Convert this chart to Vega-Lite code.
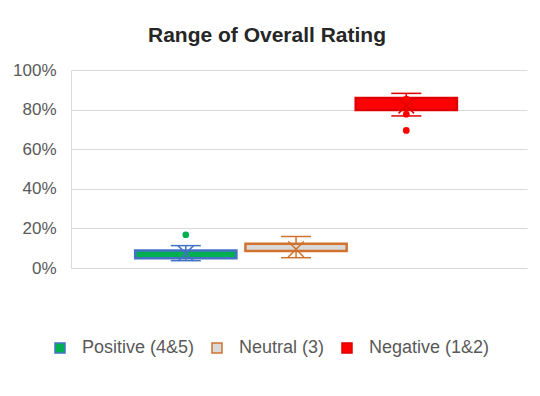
{
  "$schema": "https://vega.github.io/schema/vega-lite/v6.json",
  "width": 456,
  "height": 198,
  "autosize": {"type": "none"},
  "padding": {"left": 71, "top": 70, "right": 13, "bottom": 128},
  "background": "white",
  "config": {
    "font": "Liberation Sans",
    "view": {"stroke": null},
    "axisY": {
      "labelFont": "Liberation Sans",
      "title": null,
      "ticks": false,
      "labelOverlap": false,
      "labelFlush": false,
      "labelBound": false,
      "labelPadding": 15,
      "labelFontSize": 17,
      "labelColor": "#595959",
      "domainColor": "#D9D9D9",
      "domainWidth": 1,
      "gridColor": "#D9D9D9",
      "gridWidth": 1.2,
      "tickCount": 6,
      "format": ".0%"
    },
    "legend": {
      "labelFont": "Liberation Sans",
      "orient": "none",
      "legendX": -20,
      "legendY": 269,
      "direction": "horizontal",
      "columns": 3,
      "padding": 0,
      "symbolType": "square",
      "symbolSize": 100,
      "symbolStrokeWidth": 1.5,
      "labelFontSize": 18,
      "labelColor": "#595959",
      "labelOffset": 13,
      "columnPadding": 13
    }
  },
  "title": {
    "text": "Range of Overall Rating",
    "font": "Liberation Sans",
    "fontSize": 21,
    "fontWeight": "bold",
    "color": "#262626",
    "anchor": "middle",
    "baseline": "alphabetic",
    "offset": -2,
    "dx": -32
  },
  "datasets": {
    "stats": [
      {"series": "Positive (4&5)", "min": 0.037, "q1": 0.049, "median": 0.07, "q3": 0.088, "max": 0.113, "mean": 0.074},
      {"series": "Neutral (3)", "min": 0.052, "q1": 0.086, "median": 0.103, "q3": 0.122, "max": 0.159, "mean": 0.095},
      {"series": "Negative (1&2)", "min": 0.768, "q1": 0.798, "median": 0.83, "q3": 0.858, "max": 0.882, "mean": 0.82}
    ],
    "points": [
      {"series": "Positive (4&5)", "value": 0.168},
      {"series": "Negative (1&2)", "value": 0.853},
      {"series": "Negative (1&2)", "value": 0.777},
      {"series": "Negative (1&2)", "value": 0.695}
    ]
  },
  "encoding": {
    "x": {
      "field": "series",
      "type": "nominal",
      "sort": ["Positive (4&5)", "Neutral (3)", "Negative (1&2)"],
      "scale": {"paddingInner": 0.082, "paddingOuter": 0.609, "align": 0.478},
      "axis": null
    }
  },
  "layer": [
    {
      "data": {"name": "stats"},
      "mark": {"type": "rule", "strokeWidth": 1.5},
      "encoding": {
        "y": {"field": "min", "type": "quantitative", "scale": {"domain": [0, 1]}, "title": null},
        "y2": {"field": "max"},
        "stroke": {
          "field": "series",
          "type": "nominal",
          "scale": {"domain": ["Positive (4&5)", "Neutral (3)", "Negative (1&2)"], "range": ["#4472C4", "#D0732F", "#E00000"]},
          "legend": {"title": null}
        }
      }
    },
    {
      "data": {"name": "stats"},
      "mark": {"type": "point", "shape": "M-1,0L1,0", "filled": false, "size": 900, "strokeWidth": 1.5, "opacity": 1},
      "encoding": {
        "y": {"field": "min", "type": "quantitative"},
        "stroke": {"field": "series", "type": "nominal", "legend": {"title": null}}
      }
    },
    {
      "data": {"name": "stats"},
      "mark": {"type": "point", "shape": "M-1,0L1,0", "filled": false, "size": 900, "strokeWidth": 1.5, "opacity": 1},
      "encoding": {
        "y": {"field": "max", "type": "quantitative"},
        "stroke": {"field": "series", "type": "nominal", "legend": {"title": null}}
      }
    },
    {
      "data": {"name": "stats"},
      "mark": {"type": "bar", "strokeWidth": 2.5},
      "encoding": {
        "y": {"field": "q1", "type": "quantitative"},
        "y2": {"field": "q3"},
        "fill": {
          "field": "series",
          "type": "nominal",
          "scale": {"domain": ["Positive (4&5)", "Neutral (3)", "Negative (1&2)"], "range": ["#00B050", "#D9D9D9", "#FF0000"]},
          "legend": {"title": null}
        },
        "stroke": {"field": "series", "type": "nominal", "legend": {"title": null}}
      }
    },
    {
      "data": {"name": "stats"},
      "mark": {"type": "point", "shape": "M-1,-1L1,1M-1,1L1,-1", "filled": false, "size": 240, "strokeWidth": 1.5, "opacity": 1},
      "encoding": {
        "y": {"field": "mean", "type": "quantitative"},
        "stroke": {"field": "series", "type": "nominal", "legend": {"title": null}}
      }
    },
    {
      "data": {"name": "points"},
      "mark": {"type": "point", "shape": "circle", "filled": true, "size": 45, "opacity": 1, "strokeWidth": 0},
      "encoding": {
        "y": {"field": "value", "type": "quantitative"},
        "fill": {"field": "series", "type": "nominal", "legend": {"title": null}}
      }
    }
  ]
}
